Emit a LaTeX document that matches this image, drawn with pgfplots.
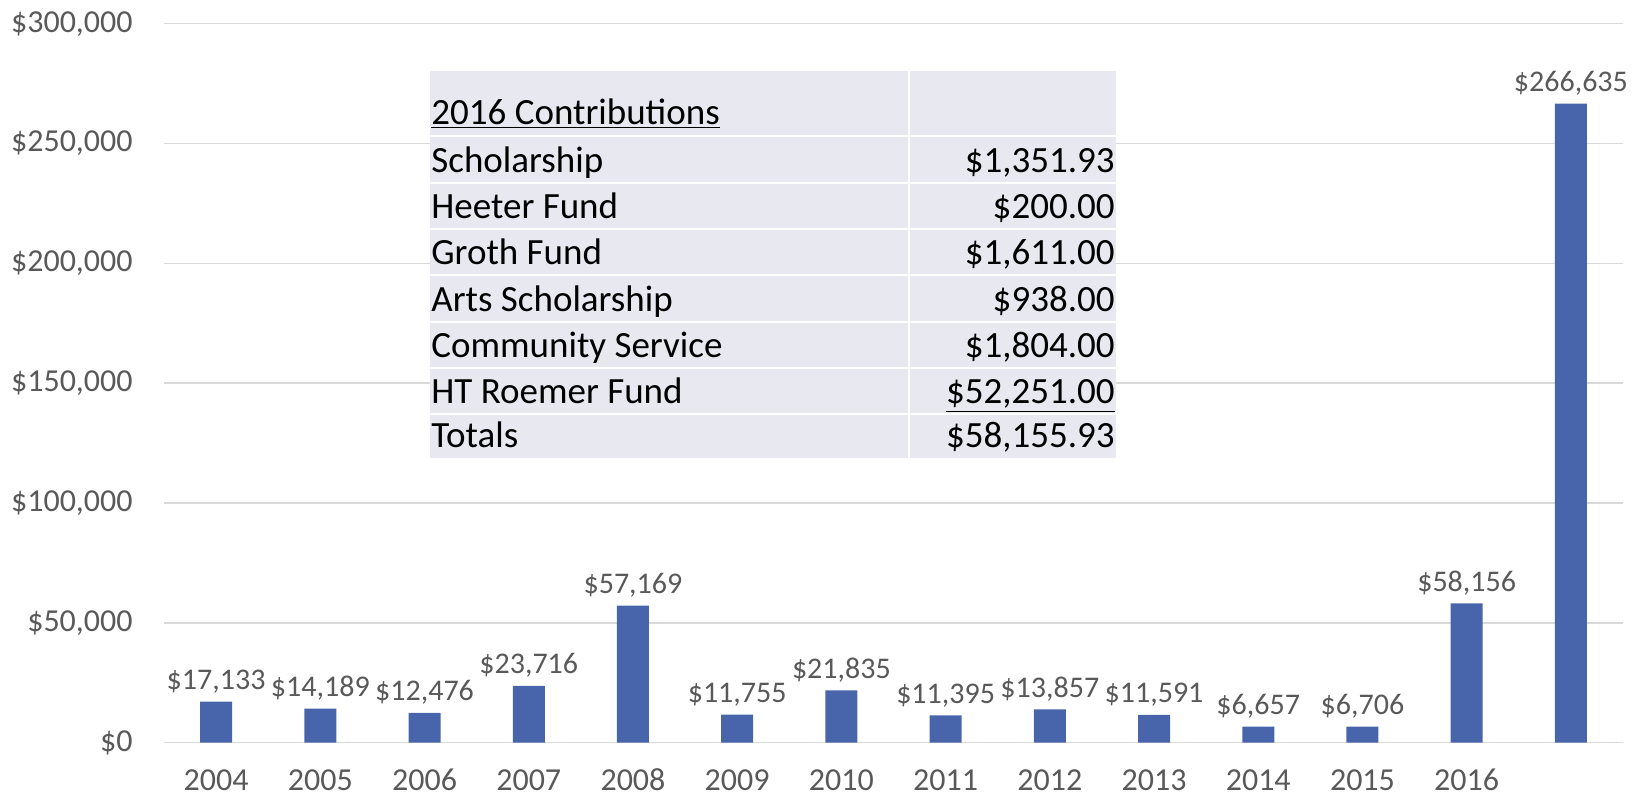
\documentclass[border=0pt]{standalone}
\usepackage{pgfplots}
\pgfplotsset{compat=1.18}
\usepackage{fontspec}
\setmainfont{Carlito}
\definecolor{barblue}{RGB}{72,101,172}
\definecolor{txtgray}{RGB}{89,89,89}
\definecolor{gridgray}{RGB}{217,217,217}
\definecolor{tablebg}{RGB}{232,232,240}

\begin{document}
\begin{tikzpicture}[x=1pt,y=1pt]
\path[use as bounding box] (-82,-28.15) rectangle (738,371.35);
\begin{axis}[
  at={(0pt,0pt)}, anchor=south west,
  scale only axis, width=729.5pt, height=359.5pt,
  ybar, bar width=16pt,
  xmin=-0.5, xmax=13.5, ymin=0, ymax=300000,
  xtick={0,1,2,3,4,5,6,7,8,9,10,11,12},
  xticklabels={2004,2005,2006,2007,2008,2009,2010,2011,2012,2013,2014,2015,2016},
  ytick={0,50000,100000,150000,200000,250000,300000},
  ymajorgrids, grid style={gridgray, line width=0.75pt},
  axis line style={draw=none},
  major tick length=0pt,
  scaled y ticks=false,
  /pgf/number format/assume math mode=true,
  yticklabel={\$\pgfmathprintnumber[fixed,precision=0,1000 sep={,}]{\tick}},
  ticklabel style={font=\fontsize{16}{19}\selectfont, text=txtgray},
  yticklabel style={inner sep=0pt, xshift=-15.5pt, anchor=east},
  xticklabel style={inner sep=0pt, anchor=base, yshift=-24pt},
  nodes near coords={\$\pgfmathprintnumber[fixed,precision=0,1000 sep={,}]{\pgfplotspointmeta}},
  nodes near coords style={font=\fontsize{15}{18}\selectfont, text=txtgray, anchor=base, inner sep=0pt, yshift=6pt},
]
\addplot[fill=barblue, draw=none] coordinates {
(0,17133)
(1,14189)
(2,12476)
(3,23716)
(4,57169)
(5,11755)
(6,21835)
(7,11395)
(8,13857)
(9,11591)
(10,6657)
(11,6706)
(12,58156)
(13,266635)
};
\end{axis}

% 2016 contributions table
\fill[tablebg] (133,142.4) rectangle (476,335.9);
\foreach \yy in {303.4,279.9,256.9,233.9,210.4,187.4,164.4}
  \draw[white, line width=1.25pt] (133,\yy) -- (476,\yy);
\draw[white, line width=1.25pt] (372.5,142.4) -- (372.5,335.9);
\begin{scope}[every node/.style={inner sep=0pt, font=\fontsize{18.5}{22}\selectfont}]
\node[anchor=base west] at (133.5,309) {\underline{2016 Contributions}};
\node[anchor=base west] at (133.5,284.9) {Scholarship};
\node[anchor=base west] at (133.5,261.9) {Heeter Fund};
\node[anchor=base west] at (133.5,238.9) {Groth Fund};
\node[anchor=base west] at (133.5,215.4) {Arts Scholarship};
\node[anchor=base west] at (133.5,192.4) {Community Service};
\node[anchor=base west] at (133.5,169.4) {HT Roemer Fund};
\node[anchor=base west] at (133.5,147.4) {Totals};
\node[anchor=base east] at (475.5,284.9) {\$1,351.93};
\node[anchor=base east] at (475.5,261.9) {\$200.00};
\node[anchor=base east] at (475.5,238.9) {\$1,611.00};
\node[anchor=base east] at (475.5,215.4) {\$938.00};
\node[anchor=base east] at (475.5,192.4) {\$1,804.00};
\node[anchor=base east] at (475.5,169.4) {\underline{\$52,251.00}};
\node[anchor=base east] at (475.5,147.4) {\$58,155.93};
\end{scope}
\end{tikzpicture}
\end{document}
